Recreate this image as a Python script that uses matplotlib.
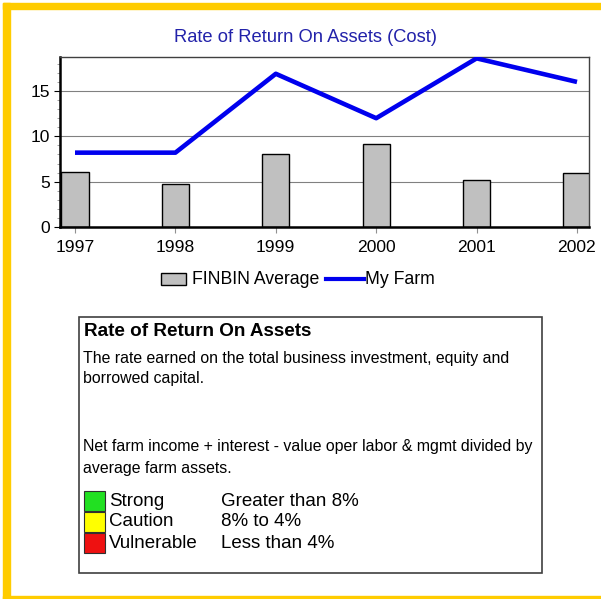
import matplotlib
matplotlib.use("Agg")
import matplotlib.pyplot as plt
from matplotlib.patches import Rectangle
from matplotlib.lines import Line2D
from matplotlib.ticker import MultipleLocator

plt.rcParams['font.family'] = ['Liberation Sans', 'DejaVu Sans']

years = [1997, 1998, 1999, 2000, 2001, 2002]
finbin_avg = [6.1, 4.7, 8.0, 9.2, 5.2, 6.0]
my_farm = [8.2, 8.2, 16.9, 12.0, 18.6, 16.0]
yticks = [0, 5, 10, 15]
title = "Rate of Return On Assets (Cost)"
series_names = ["FINBIN Average", "My Farm"]

box_title = "Rate of Return On Assets"
box_lines1 = ["The rate earned on the total business investment, equity and",
              "borrowed capital."]
box_lines2 = ["Net farm income + interest - value oper labor & mgmt divided by",
              "average farm assets."]
ratings = ["Strong", "Caution", "Vulnerable"]
rating_desc = ["Greater than 8%", "8% to 4%", "Less than 4%"]
rating_colors = ["#22e022", "#ffff00", "#ee1111"]

W, H = 601, 599
fig = plt.figure(figsize=(W/100, H/100), dpi=100)
fig.patch.set_facecolor("white")

def fx(px): return px / W
def fy(py): return 1 - py / H

# yellow frame
yellow = "#ffcc00"
fig.patches.append(Rectangle((fx(3), fy(9)), fx(598), 6/H, transform=fig.transFigure, color=yellow, zorder=0))
fig.patches.append(Rectangle((fx(3), fy(599)), 7/W, 596/H, transform=fig.transFigure, color=yellow, zorder=0))
fig.patches.append(Rectangle((fx(3), fy(599)), 1, 3/H, transform=fig.transFigure, color=yellow, zorder=0))

ax = fig.add_axes([fx(60), fy(227), fx(589) - fx(60), (227 - 57) / H])
ax.bar(years, finbin_avg, width=0.27, color="#c0c0c0", edgecolor="black", linewidth=1.0, zorder=2)
ax.plot(years, my_farm, color="#0000ee", linewidth=3.3, zorder=3, solid_capstyle="butt")
ax.set_xlim(1997 - 15/100.4, 2002 + 12/100.4)
ax.set_ylim(0, 18.75)
ax.set_yticks(yticks)
ax.yaxis.set_minor_locator(MultipleLocator(1))
ax.set_xticks(years)
ax.set_xticklabels([str(y) for y in years])
ax.tick_params(axis='both', labelsize=12.6, colors="black")
ax.tick_params(axis='x', length=4, color="#909090", pad=5)
ax.tick_params(axis='y', which='major', length=4, pad=3)
ax.tick_params(axis='y', which='minor', length=2, color="#909090")
ax.grid(axis='y', color="#808080", linewidth=0.8, zorder=1)
ax.set_axisbelow(True)
for s in ['left', 'bottom']:
    ax.spines[s].set_linewidth(1.8)
    ax.spines[s].set_color("black")
for s in ['top', 'right']:
    ax.spines[s].set_linewidth(1.0)
    ax.spines[s].set_color("#404040")

fig.text(fx(305), fy(38), title, color="#2222aa", fontsize=13.2, ha="center", va="center")

# legend (drawn manually for exact spacing)
fig.patches.append(Rectangle((fx(161), fy(285)), 25 / W, 12 / H, transform=fig.transFigure,
                             facecolor="#c0c0c0", edgecolor="black", linewidth=1.0))
fig.text(fx(192), fy(279), series_names[0], fontsize=12.7, ha="left", va="center")
fig.lines.append(Line2D([fx(326), fx(364)], [fy(279), fy(279)], transform=fig.transFigure,
                        color="#0000ee", linewidth=3))
fig.text(fx(365), fy(279), series_names[1], fontsize=12.7, ha="left", va="center")

# text box
fig.patches.append(Rectangle((fx(79), fy(573)), (542 - 79) / W, (573 - 317) / H, transform=fig.transFigure,
                             facecolor="white", edgecolor="#404040", linewidth=1.2, zorder=1))
fig.text(fx(84), fy(332), box_title, fontsize=13.6, fontweight="bold", ha="left", va="center")
for i, t in enumerate(box_lines1):
    fig.text(fx(83), fy(358 + 21 * i), t, fontsize=11.4, ha="left", va="center")
for i, t in enumerate(box_lines2):
    fig.text(fx(83), fy(447 + 21 * i), t, fontsize=11.4, ha="left", va="center")
for i, (r, d, c) in enumerate(zip(ratings, rating_desc, rating_colors)):
    yc = 501 + 21 * i
    fig.patches.append(Rectangle((fx(84), fy(yc + 10)), 21 / W, 20 / H, transform=fig.transFigure,
                                 facecolor=c, edgecolor="#303030", linewidth=0.8, zorder=2))
    fig.text(fx(109), fy(yc), r, fontsize=13.5, ha="left", va="center")
    fig.text(fx(221), fy(yc), d, fontsize=13.5, ha="left", va="center")

fig.savefig("out.png", dpi=100, facecolor="white")
